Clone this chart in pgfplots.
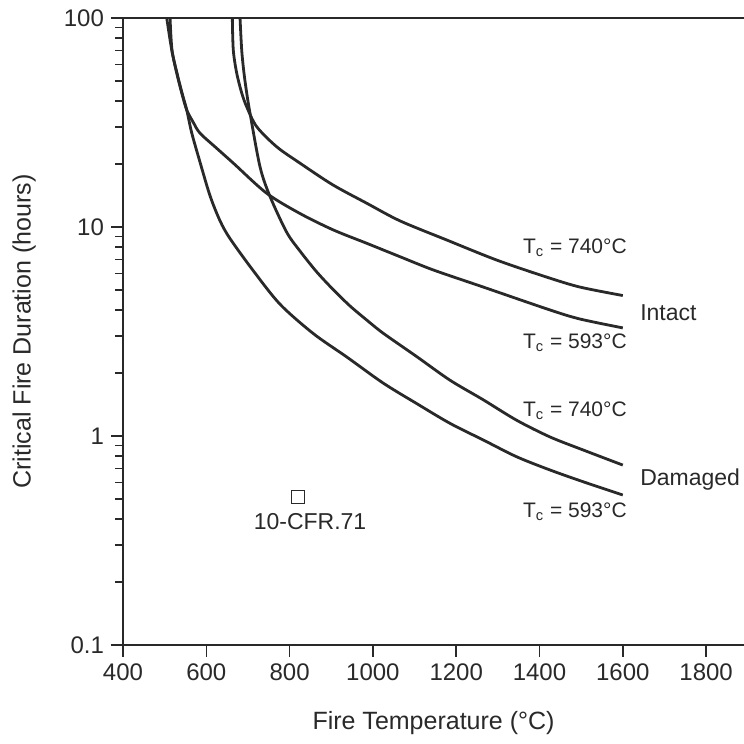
\documentclass[border=0pt]{standalone}
\usepackage{pgfplots}
\pgfplotsset{compat=1.18}
\usepackage{fontspec}
\setmainfont{Liberation Sans}
\definecolor{ink}{gray}{0.16}
\begin{document}
\begin{tikzpicture}
\begin{axis}[
  scale only axis, width=310.5pt, height=313.5pt,
  xmin=400, xmax=1891, ymode=log, ymin=0.1, ymax=100,
  axis x line*=box, axis y line*=left,
  axis line style={ink, line width=0.9pt},
  every tick/.style={ink, line width=0.8pt},
  tick align=outside, xtick pos=left, ytick pos=left,
  xtick={400,600,...,1800},
  ytick={0.1,1,10,100}, yticklabels={0.1,1,10,100},
  minor ytick={0.2,0.3,0.4,0.5,0.6,0.7,0.8,0.9,2,3,4,5,6,7,8,9,20,30,40,50,60,70,80,90},
  major tick length=6pt, minor tick length=3.8pt,
  /pgf/number format/assume math mode=true,
  /pgf/number format/1000 sep={},
  ticklabel style={font=\fontsize{12}{14}\selectfont, text=ink},
  xlabel={Fire Temperature (°C)},
  ylabel={Critical Fire Duration (hours)},
  every axis x label/.style={at={(axis description cs:0.5,-0.1245)}, anchor=center, font=\fontsize{12.5}{15}\selectfont, text=ink},
  every axis y label/.style={at={(axis description cs:-0.159,0.5)}, rotate=90, anchor=center, font=\fontsize{12.5}{15}\selectfont, text=ink},
  clip=true,
]
% Intact, Tc = 740
\addplot[ink, line width=1.4pt, smooth, tension=0.5] coordinates {
(662.5,100)(664.8,70.3)(673,54.5)(685,43.8)(697,37.6)(721,30.2)(769,24.2)(825,20.2)(904,15.9)(985,13.0)(1065,10.7)(1177,8.67)(1297,6.95)(1417,5.76)(1497,5.16)(1600,4.7)};
% Intact, Tc = 593
\addplot[ink, line width=1.4pt, smooth, tension=0.5] coordinates {
(505,100)(517,70.3)(529,54.5)(541,43.8)(553,36.3)(569,31.6)(585,28.1)(625,23.8)(665,20.2)(745,14.5)(825,11.6)(905,9.68)(985,8.36)(1065,7.21)(1145,6.23)(1265,5.16)(1425,4.01)(1497,3.63)(1600,3.29)};
% Damaged, Tc = 740
\addplot[ink, line width=1.4pt, smooth, tension=0.5] coordinates {
(681,100)(685,70.3)(690.5,54.5)(697,43.8)(705,35.0)(729,19.4)(753,14.0)(793,9.44)(825,7.67)(865,6.10)(905,5.01)(945,4.19)(985,3.59)(1025,3.10)(1105,2.40)(1185,1.85)(1265,1.49)(1345,1.19)(1425,0.99)(1505,0.857)(1600,0.726)};
% Damaged, Tc = 593
\addplot[ink, line width=1.4pt, smooth, tension=0.5] coordinates {
(513,100)(517.6,70.3)(529.6,54.5)(541.7,43.8)(553,36.3)(565,28.2)(585,20.4)(609,14.1)(633,10.7)(657,8.8)(713,6.17)(777,4.27)(857,3.09)(937,2.39)(1025,1.79)(1105,1.43)(1185,1.15)(1265,0.957)(1345,0.796)(1425,0.688)(1505,0.604)(1600,0.522)};
% 10-CFR.71 point
\addplot[ink, only marks, mark=square, mark size=3.2pt, mark options={line width=0.6pt}] coordinates {(820,0.51)};

\node[text=ink, font=\fontsize{10.5}{12}\selectfont] at (axis cs:1485,7.94) {T\textsubscript{c} = 740°C};
\node[text=ink, font=\fontsize{10.5}{12}\selectfont] at (axis cs:1485,2.79) {T\textsubscript{c} = 593°C};
\node[text=ink, font=\fontsize{10.5}{12}\selectfont] at (axis cs:1485,1.32) {T\textsubscript{c} = 740°C};
\node[text=ink, font=\fontsize{10.5}{12}\selectfont] at (axis cs:1485,0.433) {T\textsubscript{c} = 593°C};
\node[text=ink, anchor=west, inner sep=0pt, font=\fontsize{11.5}{13}\selectfont] at (axis cs:1641,3.88) {Intact};
\node[text=ink, anchor=west, inner sep=0pt, font=\fontsize{11.5}{13}\selectfont] at (axis cs:1641,0.616) {Damaged};
\node[text=ink, font=\fontsize{11.5}{13}\selectfont] at (axis cs:849,0.388) {10-CFR.71};
\coordinate (bl) at (rel axis cs:0,0);
\coordinate (tr) at (rel axis cs:1,1);
\end{axis}
\pgfresetboundingbox
\path ([xshift=-61.5pt,yshift=-49.5pt]bl) rectangle ([yshift=9pt]tr);
\end{tikzpicture}
\end{document}
